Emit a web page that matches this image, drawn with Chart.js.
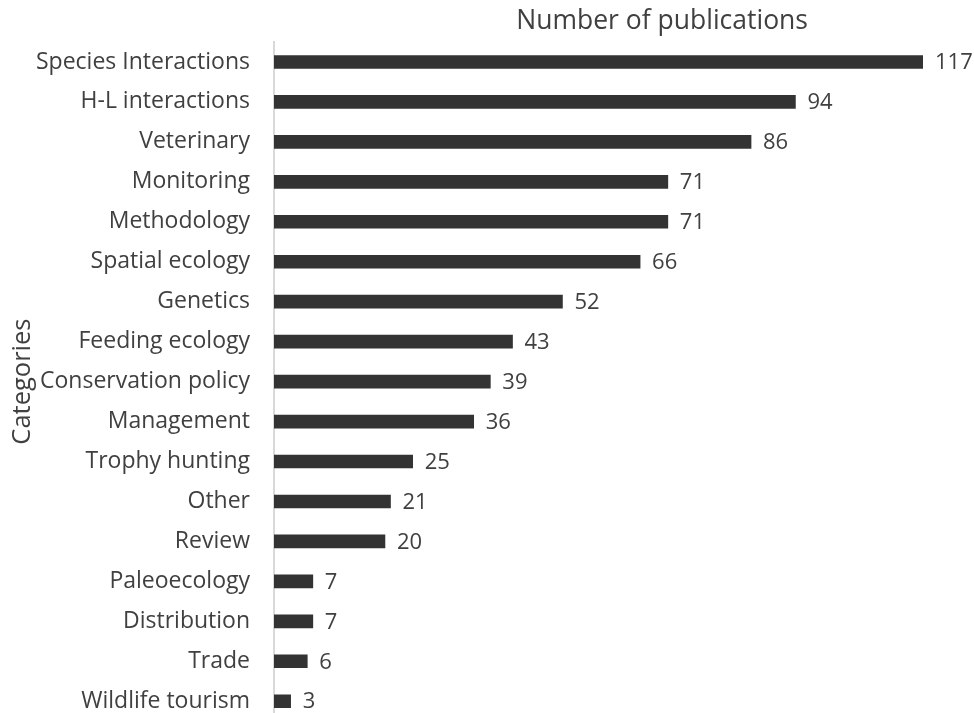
<!DOCTYPE html>
<html>
<head>
<meta charset="utf-8">
<script src="https://cdn.jsdelivr.net/npm/chart.js@4/dist/chart.umd.min.js"></script>
<style>
  html, body { margin: 0; padding: 0; background: #fff; overflow: hidden; }
  canvas { display: block; }
</style>
</head>
<body>
<canvas id="chart" width="974" height="759"></canvas>
<script>
const categories = ['Species Interactions', 'H-L interactions', 'Veterinary', 'Monitoring', 'Methodology',
    'Spatial ecology', 'Genetics', 'Feeding ecology', 'Conservation policy', 'Management',
    'Trophy hunting', 'Other', 'Review', 'Paleoecology', 'Distribution', 'Trade', 'Wildlife tourism'];
const publications = [117, 94, 86, 71, 71, 66, 52, 43, 39, 36, 25, 21, 20, 7, 7, 6, 3];

const FONT = '"Open Sans", Lato, sans-serif';
const TEXT = '#404040';

// value labels at the end of each bar
const valueLabels = {
    id: 'valueLabels',
    afterDatasetsDraw(chart) {
        const ctx = chart.ctx;
        const meta = chart.getDatasetMeta(0);
        ctx.save();
        ctx.font = '22px ' + FONT;
        ctx.fillStyle = TEXT;
        ctx.textAlign = 'left';
        ctx.textBaseline = 'middle';
        meta.data.forEach((bar, i) => {
            ctx.fillText(publications[i], bar.x + 12, bar.y + 1);
        });
        ctx.restore();
    }
};

// top title, sits off-centre over the plot like the original
const topTitle = {
    id: 'topTitle',
    afterDraw(chart) {
        const ctx = chart.ctx;
        const area = chart.chartArea;
        ctx.save();
        ctx.font = '26.5px ' + FONT;
        ctx.fillStyle = TEXT;
        ctx.textAlign = 'center';
        ctx.textBaseline = 'middle';
        ctx.fillText('Number of publications', area.left + (area.right - area.left) * 0.598, 21);
        ctx.restore();
    }
};

new Chart(document.getElementById('chart'), {
    type: 'bar',
    data: {
        labels: categories,
        datasets: [{
            label: 'Number of publications',
            data: publications,
            backgroundColor: '#333333',
            barThickness: 13
        }]
    },
    plugins: [valueLabels, topTitle],
    options: {
        indexAxis: 'y',
        responsive: false,
        animation: false,
        layout: { autoPadding: false, padding: { top: 42, right: 51, bottom: 0, left: 0 } },
        plugins: {
            legend: { display: false },
            tooltip: { enabled: false }
        },
        scales: {
            x: {
                display: false,
                min: 0,
                max: 117
            },
            y: {
                afterFit: scale => { scale.width = 274; },
                grid: { display: false, drawTicks: false },
                border: { display: true, color: '#d9d9d9', width: 2 },
                ticks: {
                    color: TEXT,
                    font: { family: FONT, size: 23 },
                    padding: 24
                },
                title: {
                    display: true,
                    text: 'Categories',
                    color: TEXT,
                    font: { family: FONT, size: 25.5 },
                    padding: { top: 7, bottom: 0 }
                }
            }
        }
    }
});
</script>
</body>
</html>
